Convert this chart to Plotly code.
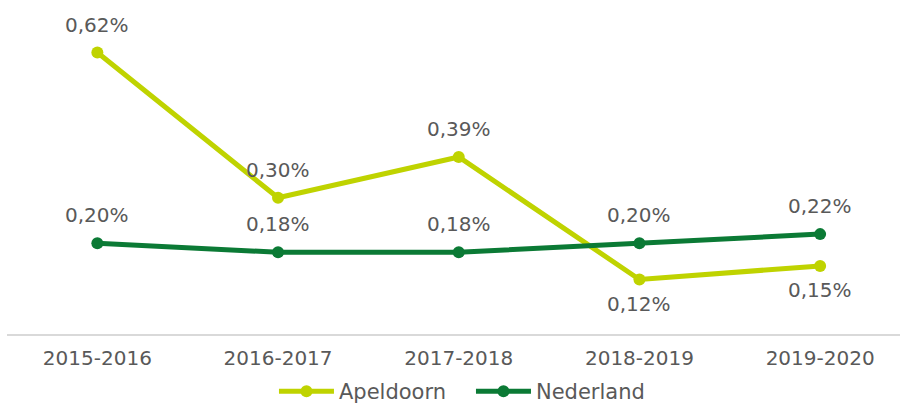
import plotly.graph_objects as go

categories = ["2015-2016", "2016-2017", "2017-2018", "2018-2019", "2019-2020"]
apeldoorn = [0.62, 0.30, 0.39, 0.12, 0.15]
nederland = [0.20, 0.18, 0.18, 0.20, 0.22]
# label placement: +1 above the point, -1 below
apeldoorn_side = [1, 1, 1, -1, -1]
nederland_side = [1, 1, 1, 1, 1]

def fmt(v):
    return f"{v:.2f}".replace(".", ",") + "%"

C_APEL = "#bfd300"
C_NED = "#0b7a35"
GRAY = "#595959"
FONT = "DejaVu Sans, Liberation Sans, Arial, sans-serif"

fig = go.Figure()
for name, vals, color in [("Apeldoorn", apeldoorn, C_APEL), ("Nederland", nederland, C_NED)]:
    fig.add_trace(go.Scatter(
        x=categories, y=vals, name=name, mode="lines+markers",
        line=dict(color=color, width=5), marker=dict(color=color, size=12),
        cliponaxis=False,
    ))

annotations = []
for vals, sides in [(apeldoorn, apeldoorn_side), (nederland, nederland_side)]:
    for c, v, s in zip(categories, vals, sides):
        annotations.append(dict(
            x=c, y=v, xref="x", yref="y", text=fmt(v), showarrow=False,
            xanchor="center", yanchor="middle", yshift=28 if s > 0 else -24,
            font=dict(size=20, color=GRAY, family=FONT),
        ))

fig.update_layout(
    width=900, height=412,
    margin=dict(l=7, r=0, t=0, b=78),
    paper_bgcolor="white", plot_bgcolor="white",
    font=dict(family=FONT, color=GRAY, size=20),
    showlegend=True,
    legend=dict(orientation="h", x=0.5233, xanchor="center", xref="container",
                y=-0.017, yanchor="bottom", yref="container",
                font=dict(size=21, color=GRAY, family=FONT), itemwidth=55,
                entrywidth=127, traceorder="normal"),
    xaxis=dict(type="category", range=[-0.5, 4.442], showgrid=False, zeroline=False,
               showline=True, linecolor="#d9d9d9", linewidth=2, ticks="",
               ticklabelstandoff=5,
               tickfont=dict(size=20, color=GRAY, family=FONT)),
    yaxis=dict(range=[0, 0.7357], visible=False, showgrid=False, zeroline=False),
    annotations=annotations,
)

fig.write_html("out.html")
